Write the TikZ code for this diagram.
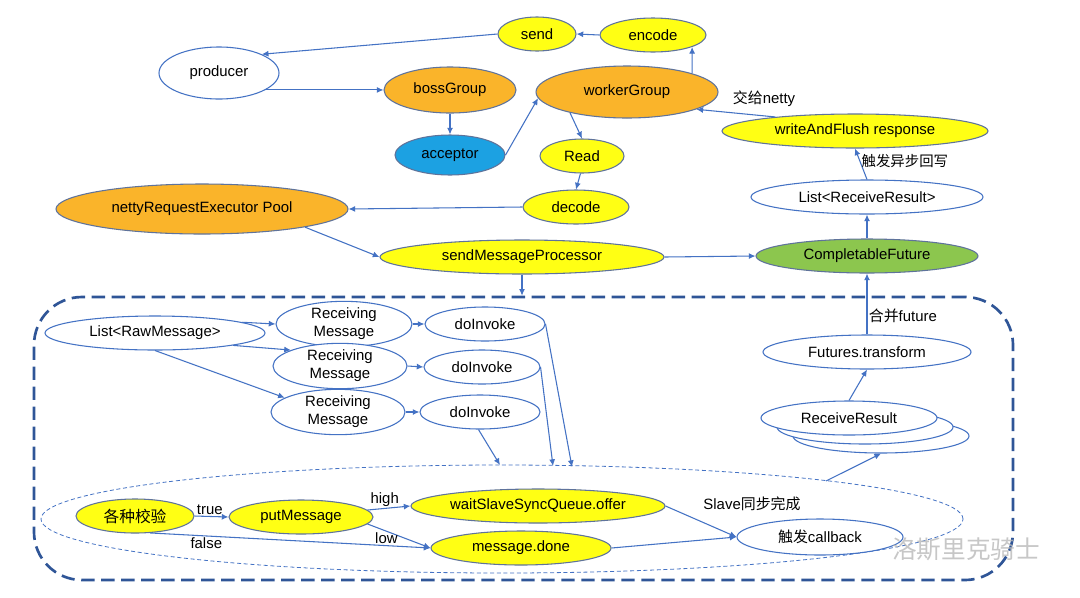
\documentclass[tikz,border=0pt]{standalone}
\usepackage{fontspec}
\setmainfont{Liberation Sans}
\newfontfamily\cjk{Noto Sans CJK SC}
\usetikzlibrary{shapes.geometric,arrows.meta,calc}
\definecolor{nyellow}{RGB}{255,255,20}
\definecolor{norange}{RGB}{250,180,42}
\definecolor{nblue}{RGB}{28,161,226}
\definecolor{ngreen}{RGB}{140,198,78}
\definecolor{nline}{RGB}{95,115,155}
\definecolor{edge}{RGB}{68,114,196}
\definecolor{boxline}{RGB}{47,85,151}
\begin{document}
\begin{tikzpicture}[x=0.75pt,y=-0.75pt,
  font=\fontsize{11.2}{12}\selectfont,
  el/.style 2 args={ellipse, draw=nline, line width=0.8pt, minimum width=#1*0.75pt, minimum height=#2*0.75pt, inner sep=0pt},
  yel/.style={fill=nyellow},
  org/.style={fill=norange},
  blu/.style={fill=nblue},
  grn/.style={fill=ngreen},
  wht/.style={fill=white, draw=edge},
  rm/.style={align=center, font=\fontsize{11.2}{13.6}\selectfont},
  arr/.style={draw=edge, line width=0.8pt, -{Latex[length=5pt,width=4.5pt]}},
  lab/.style={inner sep=1pt},
  cjklab/.style={inner sep=1pt, font=\cjk\fontsize{10.8}{12}\selectfont}]
\useasboundingbox[fill=white] (0,0) rectangle (1080,597);

% top part
\node[el={78}{34},yel] (send) at (537,34) {send};
\node[el={106}{34},yel] (encode) at (653,35) {encode};
\node[el={120}{52},wht] (producer) at (219,73) {producer};
\node[el={132}{46},org] (boss) at (450,90) {bossGroup};
\node[el={182}{52},org] (worker) at (627,92) {workerGroup};
\node[el={110}{40},blu] (acceptor) at (450,155) {acceptor};
\node[el={84}{34},yel] (read) at (582,156) {Read};
\node[el={106}{34},yel] (decode) at (576,207) {decode};
\node[el={266}{34},yel] (wafr) at (855,131) {writeAndFlush response};
\node[el={232}{34},wht] (lrr) at (867,197) {List<ReceiveResult>};
\node[el={292}{50},org] (pool) at (202,209) {nettyRequestExecutor Pool};
\node[el={284}{34},yel] (smp) at (522,257) {sendMessageProcessor};
\node[el={222}{34},grn] (cf) at (867,256) {CompletableFuture};

% big dashed box
\node[draw=boxline, line width=2pt, dash pattern=on 10pt off 5pt, rounded corners=36pt,
      minimum width=979*0.75pt, minimum height=283*0.75pt, inner sep=0pt] (box) at (523.5,438.5) {};
% dashed zone ellipse
\node[ellipse, draw=edge, line width=0.6pt, dash pattern=on 3pt off 2pt,
      minimum width=922*0.75pt, minimum height=108*0.75pt, inner sep=0pt] (zone) at (502,519) {};

% inner nodes
\node[el={220}{34},wht] (lraw) at (155,333) {List<RawMessage>};
\node[el={136}{34},wht,rm] (rm1) at (344,324) {Receiving\\Message};
\node[el={120}{34},wht] (di1) at (485,324) {doInvoke};
\node[el={134}{34},wht,rm] (rm2) at (340,366) {Receiving\\Message};
\node[el={116}{34},wht] (di2) at (482,367) {doInvoke};
\node[el={134}{34},wht,rm] (rm3) at (338,412) {Receiving\\Message};
\node[el={120}{34},wht] (di3) at (480,412) {doInvoke};

\node[el={208}{34},wht] (ft) at (867,352) {Futures.transform};
\node[el={176}{34},wht] (rr3) at (881,436) {};
\node[el={176}{34},wht] (rr2) at (865,427) {};
\node[el={176}{34},wht] (rr) at (849,418) {ReceiveResult};

\node[el={118}{34},yel,font=\cjk\fontsize{11.8}{12}\selectfont] (jy) at (135,516) {各种校验};
\node[el={144}{34},yel] (put) at (301,517) {putMessage};
\node[el={254}{34},yel] (wait) at (538,506) {waitSlaveSyncQueue.offer};
\node[el={180}{34},yel] (mdone) at (521,548) {message.done};
\node[el={166}{36},wht] (cb) at (820,537) {{\cjk 触发}callback};

\coordinate (z1) at (572,467);
\coordinate (z2) at (553,466);
\coordinate (z3) at (500,465);
\coordinate (z4) at (826,481);

% edges top
\draw[arr] (send.west) -- (producer.north east);
\draw[arr] (encode.west) -- (send.east);
\draw[arr] (worker.16) -- (encode.-17);
\draw[arr] (producer.-20) -- (producer.-20 -| boss.west);
\draw[arr] (boss.south) -- (acceptor.north);
\draw[arr] (acceptor.east) -- (worker.-176);
\draw[arr] (worker.-160) -- (read.north);
\draw[arr] (read.-95) -- (decode.north);
\draw[arr] (decode.west) -- (pool.east);
\draw[arr] (pool.-10) -- (smp.west);
\draw[arr] (smp.east) -- (cf.west);
\draw[arr] (cf.north) -- (lrr.south);
\draw[arr] (lrr.north) -- node[cjklab, right, pos=0.6] (l2) {触发异步回写} (wafr.south);
\draw[arr] (wafr.170) -- (worker.-14);
\node[lab] (l1) at (764,99) {{\cjk 交给}netty};
\draw[arr] (smp.south) -- (smp.south |- box.north);
\draw[arr] (ft.north) -- node[lab, right, pos=0.3] (l3) {{\cjk 合并}future} (cf.south);

% inner edges
\draw[arr] (lraw.7) -- (rm1.west);
\draw[arr] (lraw.-9) -- (rm2.162);
\draw[arr] (lraw.south) -- (rm3.165);
\draw[arr] (rm1.east) -- (di1.west);
\draw[arr] (rm2.east) -- (di2.west);
\draw[arr] (rm3.east) -- (di3.west);
\draw[arr] (di1.east) -- (z1);
\draw[arr] (di2.east) -- (z2);
\draw[arr] (di3.-95) -- (z3);
\draw[arr] (z4) -- (rr3.south);
\draw[arr] (rr.north) -- (ft.south);

\draw[arr] (jy.east) -- node[lab, above, pos=0.45] (lt) {true} (put.west);
\draw[arr] (jy.-48) -- node[lab, below, pos=0.2] (lf) {false} (mdone.west);
\draw[arr] (put.6) -- node[lab, above, pos=0.4] (lh) {high} (wait.west);
\draw[arr] (put.-6) -- node[lab, below, pos=0.3] (ll) {low} (mdone.west);
\draw[arr] (wait.east) -- (cb.west);
\node[lab] (ls) at (752,504) {Slave{\cjk 同步完成}};
\draw[arr] (mdone.east) -- (cb.west);

% watermark
\node[text=gray!55, font=\cjk\fontsize{18.5}{20}\selectfont, opacity=0.8] (wm) at (966,549) {洛斯里克骑士};
\end{tikzpicture}
\end{document}
